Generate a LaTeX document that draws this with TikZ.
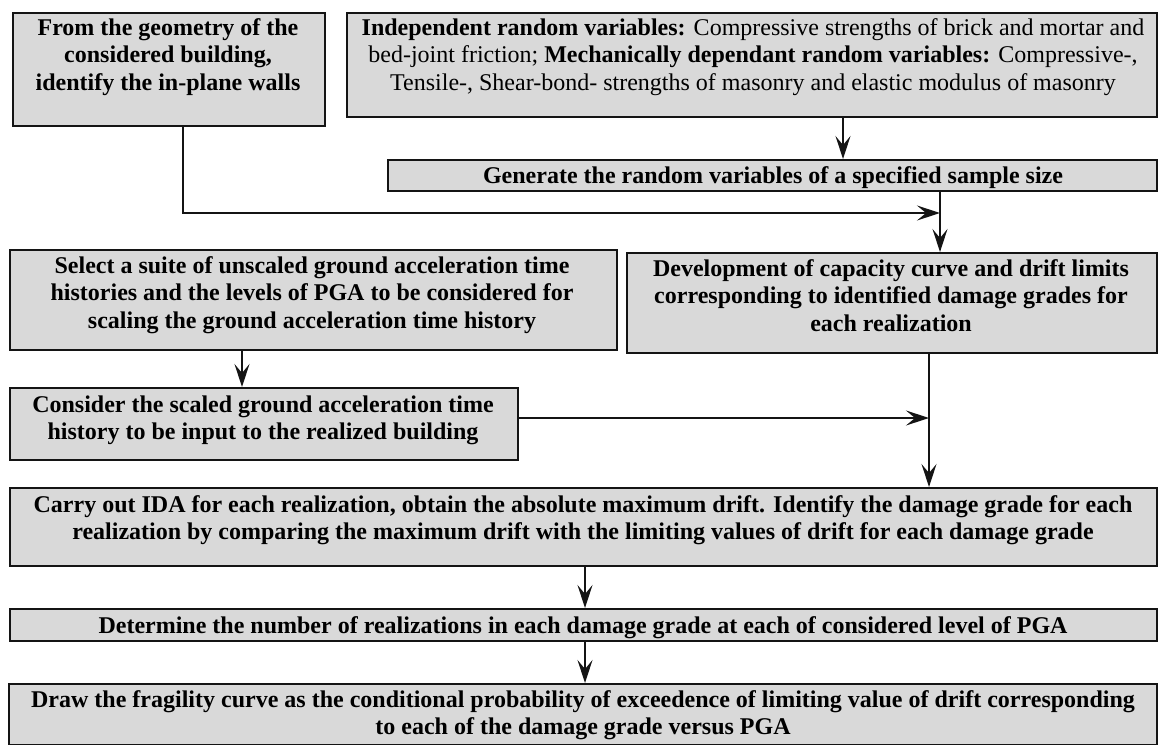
\documentclass[tikz,border=0pt]{standalone}
\usepackage{fontspec}
\setmainfont{Liberation Serif}
\usetikzlibrary{arrows.meta}
\definecolor{boxgray}{HTML}{D9D9D9}
\definecolor{edge}{HTML}{141414}
\begin{document}
\begin{tikzpicture}[x=1pt,y=-1pt,
  box/.style={draw=edge, line width=1.8pt, fill=boxgray, inner sep=0pt, anchor=north west},
  conn/.style={draw=edge, line width=1.4pt, -{Stealth[length=23pt,width=15pt,inset=9pt]}},
  txt/.style={anchor=base, align=center, inner sep=0pt, font=\fontsize{24}{27.6}\selectfont\bfseries},
  txtn/.style={anchor=base, align=center, inner sep=0pt, font=\fontsize{24}{27.6}\selectfont}]
\useasboundingbox (0,0) rectangle (1158,744);
% boxes
\node[box, minimum width=312pt, minimum height=113pt] (A) at (12,12) {};
\node[box, minimum width=810pt, minimum height=104pt] (B) at (346,12) {};
\node[box, minimum width=769pt, minimum height=31pt] (C) at (387,159) {};
\node[box, minimum width=530pt, minimum height=100pt] (D) at (626,252) {};
\node[box, minimum width=607pt, minimum height=100pt] (E) at (9,249) {};
\node[box, minimum width=508pt, minimum height=72pt] (F) at (9,387) {};
\node[box, minimum width=1147pt, minimum height=78pt] (G) at (9,487) {};
\node[box, minimum width=1147pt, minimum height=32pt] (H) at (9,608) {};
\node[box, minimum width=1148pt, minimum height=61pt] (I) at (8,683) {};
% texts (anchor = baseline of last line)
\node[txt] (tA) at (168,90.2) {From the geometry of the\\considered building,\\identify the in-plane walls};
\node[txtn] (tB) at (753,90.2) {\textbf{Independent random variables:} Compressive strengths of brick and mortar and\\bed-joint friction; \textbf{Mechanically dependant random variables:} Compressive-,\\Tensile-, Shear-bond- strengths of masonry and elastic modulus of masonry};
\node[txt] (tC) at (773,183) {Generate the random variables of a specified sample size};
\node[txt] (tD) at (891,331.2) {Development of capacity curve and drift limits\\corresponding to identified damage grades for\\each realization};
\node[txt] (tE) at (312,328.2) {Select a suite of unscaled ground acceleration time\\histories and the levels of PGA to be considered for\\scaling the ground acceleration time history};
\node[txt] (tF) at (263,439.6) {Consider the scaled ground acceleration time\\history to be input to the realized building};
\node[txt] (tG) at (583,539.6) {Carry out IDA for each realization, obtain the absolute maximum drift. Identify the damage grade for each\\realization by comparing the maximum drift with the limiting values of drift for each damage grade};
\node[txt] (tH) at (583,633) {Determine the number of realizations in each damage grade at each of considered level of PGA};
\node[txt] (tI) at (583,734.6) {Draw the fragility curve as the conditional probability of exceedence of limiting value of drift corresponding\\to each of the damage grade versus PGA};
% junction coordinates
\coordinate (a1) at (183,213);
\coordinate (j1) at (940,213);
\coordinate (b1) at (843,0);
\coordinate (e1) at (242,0);
\coordinate (j2) at (929,418);
\coordinate (g1) at (585,0);
% connectors
\draw[conn] (A.south -| a1) -- (a1) -- (j1);
\draw[conn] (B.south -| b1) -- (b1 |- C.north);
\draw[conn] (C.south -| j1) -- (j1 |- D.north);
\draw[conn] (E.south -| e1) -- (e1 |- F.north);
\draw[conn] (F.east |- j2) -- (j2);
\draw[conn] (D.south -| j2) -- (j2 |- G.north);
\draw[conn] (G.south -| g1) -- (g1 |- H.north);
\draw[conn] (H.south -| g1) -- (g1 |- I.north);
\end{tikzpicture}
\end{document}
